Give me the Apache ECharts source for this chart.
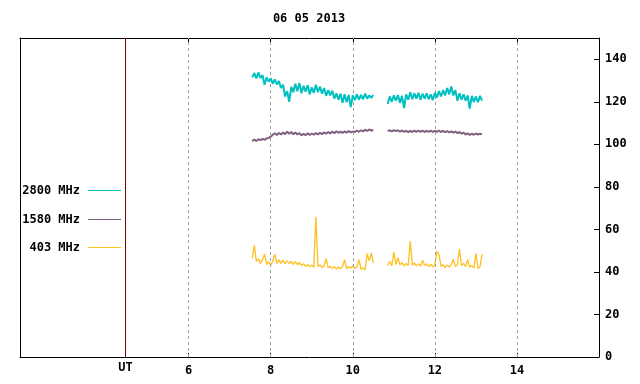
<!DOCTYPE html>
<html>
<head>
<meta charset="utf-8">
<script src="https://cdn.jsdelivr.net/npm/echarts@6/dist/echarts.min.js"></script>
<style>html,body{margin:0;padding:0;background:#fff}#c{width:640px;height:384px}</style>
</head>
<body>
<div id="c"></div>
<script>
const title = '06 05 2013';
const seriesNames = ['2800 MHz', '1580 MHz', '403 MHz'];
const xTicks = [6, 8, 10, 12, 14];
const yTicks = [0, 20, 40, 60, 80, 100, 120, 140];
const utHour = 4.46;
const gapHour = 10.68;

const t1 = [7.55,7.60,7.65,7.70,7.75,7.80,7.85,7.90,7.95,8.00,
            8.05,8.10,8.15,8.20,8.25,8.30,8.35,8.40,8.45,8.50,
            8.55,8.60,8.65,8.70,8.75,8.80,8.85,8.90,8.95,9.00,
            9.05,9.10,9.15,9.20,9.25,9.30,9.35,9.40,9.45,9.50,
            9.55,9.60,9.65,9.70,9.75,9.80,9.85,9.90,9.95,10.00,
            10.05,10.10,10.15,10.20,10.25,10.30,10.35,10.40,10.45,10.50];
const t2 = [10.85,10.90,10.95,11.00,11.05,11.10,11.15,11.20,11.25,11.30,
            11.35,11.40,11.45,11.50,11.55,11.60,11.65,11.70,11.75,11.80,
            11.85,11.90,11.95,12.00,12.05,12.10,12.15,12.20,12.25,12.30,
            12.35,12.40,12.45,12.50,12.55,12.60,12.65,12.70,12.75,12.80,
            12.85,12.90,12.95,13.00,13.05,13.10,13.15];

const v2800a = [131.5,133.5,131.0,133.8,131.2,132.5,128.0,131.5,129.5,131.0,
                128.5,130.5,128.2,129.8,126.5,128.0,122.5,125.0,120.0,127.0,
                124.5,128.5,125.0,128.8,124.0,127.5,124.8,127.8,123.5,126.8,
                124.2,128.0,124.5,127.2,123.8,126.5,122.8,125.5,123.0,125.2,
                121.5,124.0,121.0,123.8,119.5,123.5,119.8,123.2,117.5,123.0,
                120.8,123.5,121.0,123.2,121.2,123.8,121.5,123.0,121.8,123.2];
const v2800b = [119.0,122.5,120.0,123.0,120.5,123.2,119.5,122.8,117.0,123.5,
                121.0,124.5,121.2,124.0,121.5,124.2,121.0,123.8,121.5,124.0,
                121.2,123.5,120.8,124.2,122.0,125.0,122.5,125.5,123.0,126.5,
                123.5,127.2,123.0,125.5,120.5,124.0,121.0,123.5,120.5,123.0,
                116.8,122.8,120.0,122.5,119.8,122.8,120.5];

const v1580a = [101.5,102.2,101.6,102.4,102.0,102.6,102.1,102.8,103.0,103.6,
                104.5,105.2,104.4,105.3,104.6,105.6,104.8,106.0,105.0,105.8,
                104.7,105.6,104.6,105.3,104.2,105.0,104.3,105.2,104.4,105.1,
                104.5,105.3,104.6,105.4,104.8,105.6,105.0,105.8,105.1,106.0,
                105.2,106.2,105.4,106.0,105.3,106.1,105.5,106.2,105.6,106.0,
                105.8,106.4,105.9,106.6,106.1,106.9,106.3,107.0,106.4,106.8];
const v1580b = [106.2,106.6,106.1,106.7,106.2,106.6,106.0,106.5,105.8,106.4,
                105.7,106.3,105.8,106.4,105.9,106.5,105.9,106.4,105.8,106.3,
                105.9,106.4,105.8,106.3,105.9,106.5,105.8,106.3,105.7,106.2,
                105.6,106.1,105.5,106.0,105.3,105.8,105.0,105.5,104.6,105.2,
                104.4,105.0,104.5,105.1,104.6,105.0,104.7];

const v403a = [46.5,52.5,45.0,46.2,44.0,45.8,48.5,43.5,44.8,43.2,
               45.0,48.3,44.0,45.8,44.0,45.5,43.9,45.2,44.0,45.0,
               43.6,44.8,43.4,44.4,43.0,43.8,42.6,43.5,42.4,43.2,
               42.2,65.9,42.5,43.4,42.0,42.9,46.3,42.0,42.6,41.6,
               42.5,41.3,42.3,41.5,42.4,45.8,41.6,42.6,41.8,42.8,
               41.6,42.4,45.8,41.2,42.0,41.0,48.6,45.2,49.0,44.0];
const v403b = [43.0,45.0,42.8,49.3,43.5,46.8,43.2,44.5,42.8,44.0,
               43.0,54.5,43.2,44.2,42.9,43.8,42.7,45.5,43.0,43.8,
               42.5,43.6,42.4,43.5,49.7,48.4,42.5,43.5,42.0,43.2,
               42.3,43.4,46.0,42.6,43.5,50.7,43.0,44.0,42.5,45.8,
               42.2,43.0,41.8,48.7,41.6,42.5,48.4];

const colors = ['#00c0c0', '#806080', '#ffc020'];
const widths = [2, 2, 1.3];
const FONT = "'DejaVu Sans Mono', monospace";

function build(a, b) {
  return t1.map((t, i) => [t, a[i]])
    .concat([[gapHour, '-']])
    .concat(t2.map((t, i) => [t, b[i]]));
}
const seriesData = [build(v2800a, v2800b), build(v1580a, v1580b), build(v403a, v403b)];

const chart = echarts.init(document.getElementById('c'), null, {renderer: 'canvas'});
const txt = {color: '#000', fontFamily: FONT, fontWeight: 'bold', fontSize: 12};

const legendCenters = [191.5, 220.5, 248.5];
const option = {
  animation: false,
  backgroundColor: '#fff',
  title: {
    text: title, left: 309, textAlign: 'center', top: 13, padding: 0,
    textStyle: Object.assign({}, txt)
  },
  legend: seriesNames.map((n, i) => ({
    data: [{name: n, icon: 'path://M0,0H33V1H0Z'}], orient: 'vertical', align: 'right',
    right: 519, top: legendCenters[i] - 7,
    padding: 0, itemWidth: 33, itemHeight: 14, selectedMode: false,
    itemStyle: {color: colors[i], opacity: 1},
    textStyle: Object.assign({padding: [0, 3, 0, 0]}, txt)
  })),
  grid: {left: 20, right: 41, top: 38, bottom: 27, containLabel: false},
  xAxis: [{
    type: 'value', min: 1.89, max: 16, position: 'bottom',
    axisLine: {show: true, onZero: false, lineStyle: {color: '#000', width: 1}},
    axisTick: {show: true, inside: true, length: 4, customValues: xTicks, lineStyle: {color: '#000'}},
    axisLabel: Object.assign({customValues: xTicks, margin: 8}, txt),
    splitLine: {show: false}
  }, {
    type: 'value', min: 1.89, max: 16, position: 'top',
    axisLine: {show: true, onZero: false, lineStyle: {color: '#000', width: 1}},
    axisTick: {show: true, inside: true, length: 4, customValues: xTicks, lineStyle: {color: '#000'}},
    axisLabel: {show: false},
    splitLine: {show: false}
  }],
  yAxis: [{
    type: 'value', min: 0, max: 150, position: 'right',
    axisLine: {show: true, onZero: false, lineStyle: {color: '#000', width: 1}},
    axisTick: {show: true, inside: true, length: 5, customValues: yTicks, lineStyle: {color: '#000'}},
    axisLabel: Object.assign({customValues: yTicks, margin: 6}, txt),
    splitLine: {show: false}
  }, {
    type: 'value', min: 0, max: 150, position: 'left',
    axisLine: {show: true, onZero: false, lineStyle: {color: '#000', width: 1}},
    axisTick: {show: false}, axisLabel: {show: false}, splitLine: {show: false}
  }],
  series: seriesNames.map((n, i) => {
    const s = {
      name: n, type: 'line', data: seriesData[i], symbol: 'none', showSymbol: false,
      connectNulls: false, color: colors[i],
      lineStyle: {color: colors[i], width: widths[i]}, z: 3 + (2 - i)
    };
    if (i === 0) {
      s.markLine = {
        silent: true, symbol: 'none', animation: false,
        data: xTicks.map(v => ({
          xAxis: v,
          lineStyle: {color: '#a0a0a0', type: [3, 3], width: 1},
          label: {show: false}
        })).concat([{
          xAxis: utHour,
          lineStyle: {color: '#800000', type: 'solid', width: 1},
          label: Object.assign({show: true, position: 'start', formatter: 'UT', distance: 5}, txt)
        }])
      };
    }
    return s;
  })
};
chart.setOption(option);
</script>
</body>
</html>
